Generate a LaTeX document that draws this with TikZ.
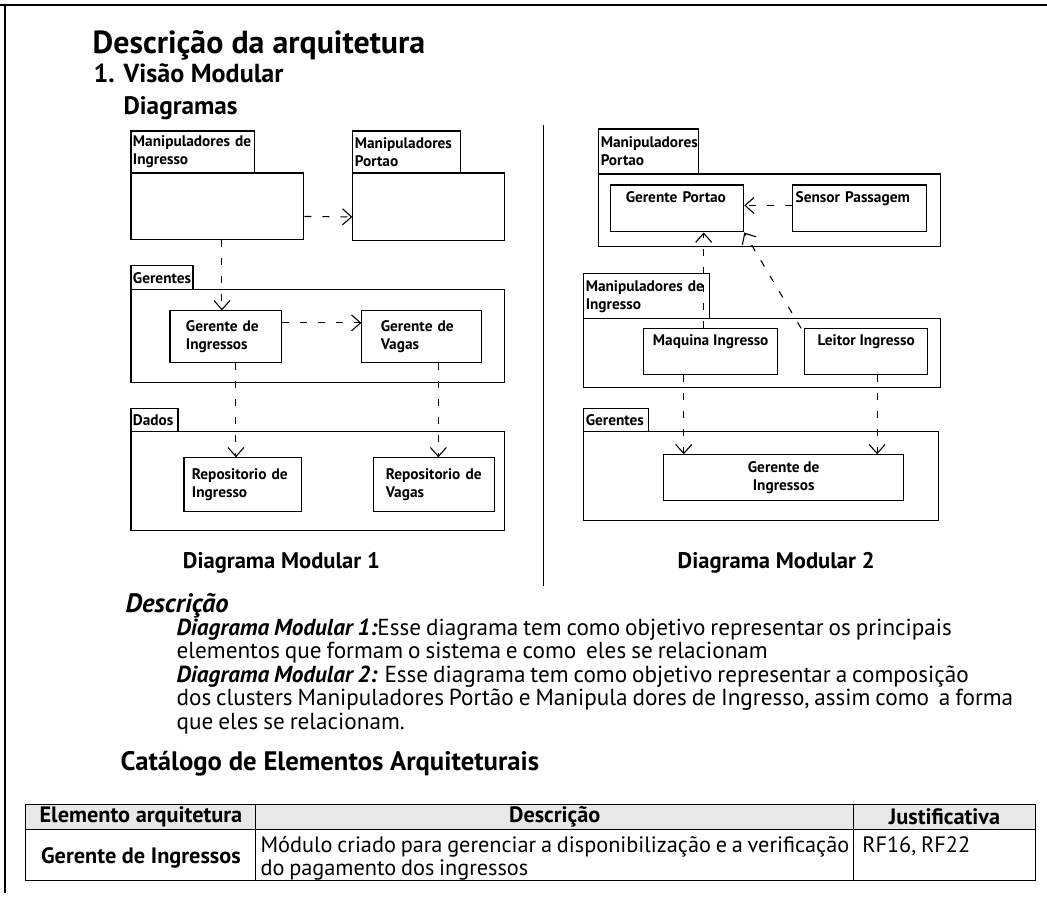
\documentclass[tikz,border=0pt]{standalone}
\usepackage{fontspec}
\setmainfont{PT Sans}
\newfontfamily\bodyfam{PT Sans}[WordSpace=0.8]
\usetikzlibrary{arrows.meta,calc}
\newlength\fitlen
\newcommand\calcsize[4]{%
  \setbox0\hbox{\fontsize{10}{12}\selectfont#3#4}%
  \fitlen=\wd0\relax
  \ifdim\fitlen<1pt \fitlen=100pt\fi
  \pgfmathsetmacro\tmpsz{10*#2/\fitlen}%
  \global\let#1\tmpsz}
\begin{document}
\begin{tikzpicture}[x=1pt,y=-1pt,
  box/.style={draw,line width=1.1pt,anchor=north west,inner sep=0pt,align=left,font=\fontsize{\boxsz}{18}\selectfont\bfseries},
  tab/.style={box,inner xsep=2pt,inner ysep=2pt},
  cbox/.style={box,align=center},
  dep/.style={draw,line width=1.1pt,dash pattern=on 7pt off 11pt,-{Straight Barb[length=9pt,width=16pt,line width=1.1pt]}},
  cell/.style={draw,line width=1pt,anchor=north west,inner sep=0pt},
  txt/.style={anchor=base west,inner sep=0pt,font=\fontsize{\bodysz}{24}\selectfont\bodyfam},
  ttxt/.style={inner sep=0pt,font=\fontsize{\tabsz}{23}\selectfont\bodyfam},
  tbold/.style={inner sep=0pt,font=\fontsize{\tabsz}{23}\selectfont\bfseries},
  capt/.style={font=\fontsize{\capsz}{24}\selectfont\bfseries}
]
\node[inner sep=0pt,outer sep=0pt] (sizes) at (0,0) {%
\calcsize\titlesz{172}{\bfseries}{Descrição da}%
\calcsize\hasz{190}{\bfseries}{1. Visão Modular}%
\calcsize\hbsz{114}{\bfseries}{Diagramas}%
\calcsize\capsz{197}{\bfseries}{Diagrama Modular 1}%
\calcsize\descsz{103}{\bfseries\itshape}{Descrição}%
\calcsize\bodysz{837}{\bodyfam}{dos clusters Manipuladores Portão e Manipula dores de Ingresso, assim como\ \ a forma}%
\calcsize\catsz{228}{\bfseries}{Catálogo de Elemen}%
\calcsize\tabsz{589}{\bodyfam}{Módulo criado para gerenciar a disponibilização e a verificação}%
\calcsize\boxsz{117}{\bfseries}{Manipuladores de}%
};
\useasboundingbox (0,0) rectangle (1047,899);
% page frame
\draw[line width=2pt] (0,5) -- (1047,5);
\draw[line width=2pt] (5,4) -- (5,893);

% headings
\node[anchor=base west,inner sep=0pt,font=\fontsize{\titlesz}{30}\selectfont\bfseries] (title) at (92,53) {Descrição da arquitetura};
\node[anchor=base west,inner sep=0pt,font=\fontsize{\hasz}{25}\selectfont\bfseries] (h1) at (93,82) {1. Visão Modular};
\node[anchor=base west,inner sep=0pt,font=\fontsize{\hbsz}{24}\selectfont\bfseries] (h2) at (123,114) {Diagramas};

% ---------- Diagram 1 ----------
\node[tab,minimum width=124pt,minimum height=42pt,text width=120pt] (mitab) at (130,130) {Manipuladores de\\Ingresso};
\node[box,minimum width=173pt,minimum height=67pt] (mibody) at (130,172) {};
\node[tab,minimum width=108pt,minimum height=42pt,text width=104pt] (mptab) at (352,130) {Manipuladores\\Portao};
\node[box,minimum width=152pt,minimum height=68pt] (mpbody) at (352,172) {};

\node[tab,minimum width=62pt,minimum height=24pt,text width=58pt] (gtab) at (130,265) {Gerentes};
\node[box,minimum width=374pt,minimum height=93pt] (gbody) at (130,289) {};
\node[box,minimum width=112pt,minimum height=52pt,text width=80pt] (gi) at (169,310) {Gerente de\\Ingressos};
\node[box,minimum width=120pt,minimum height=52pt,text width=82pt] (gv) at (361,310) {Gerente de\\Vagas};

\node[tab,minimum width=47pt,minimum height=23pt,text width=43pt] (dtab) at (130,408) {Dados};
\node[box,minimum width=374pt,minimum height=99pt] (dbody) at (130,431) {};
\node[box,minimum width=118pt,minimum height=54pt,text width=102pt] (ri) at (183,457) {Repositorio de\\Ingresso};
\node[box,minimum width=121pt,minimum height=54pt,text width=97pt] (rv) at (373,457) {Repositorio de\\Vagas};

\draw[dep] ([yshift=-10pt]mibody.east) -- ([yshift=-10pt]mpbody.west);
\draw[dep] ([xshift=-4pt]gi.north |- mibody.south) -- ([xshift=-4pt]gi.north);
\draw[dep] ([yshift=14pt]gi.east) -- ([yshift=14pt]gv.west);
\draw[dep] ([xshift=10pt]gi.south) -- ([xshift=10pt]gi.south |- ri.north);
\draw[dep] ([xshift=4pt]rv.north |- gv.south) -- ([xshift=4pt]rv.north);

\node[capt] (cap1) at (281,563) {Diagrama Modular 1};

% separator
\draw[line width=1pt] (543,125) -- (543,586);

% ---------- Diagram 2 ----------
\node[tab,minimum width=100pt,minimum height=45pt,text width=96pt] (mp2tab) at (598,128) {Manipuladores\\Portao};
\node[box,minimum width=342pt,minimum height=73pt] (mp2body) at (598,173) {};
\node[box,minimum width=133pt,minimum height=47pt,text width=103pt] (gp) at (610,184) {Gerente Portao\\\strut};
\node[box,minimum width=134pt,minimum height=47pt,text width=128pt] (sp) at (792,184) {Sensor Passagem\\\strut};

\node[tab,minimum width=126pt,minimum height=45pt,text width=122pt] (mi2tab) at (583,273) {Manipuladores de\\Ingresso};
\node[box,minimum width=357pt,minimum height=69pt] (mi2body) at (583,318) {};
\node[cbox,minimum width=134pt,minimum height=46pt] (mq) at (643,328) {Maquina Ingresso\\\strut};
\node[cbox,minimum width=123pt,minimum height=46pt] (li) at (804,328) {Leitor Ingresso\\\strut};

\node[tab,minimum width=65pt,minimum height=23pt,text width=61pt] (g2tab) at (583,408) {Gerentes};
\node[box,minimum width=355pt,minimum height=89pt] (g2body) at (583,431) {};
\node[cbox,minimum width=240pt,minimum height=46pt] (gi2) at (663,454) {Gerente de\\Ingressos};

\draw[dep] ([yshift=3pt]sp.west) -- ([yshift=3pt]gp.east);
\draw[dep] ([xshift=-7pt]mq.north) -- ([xshift=-7pt]mq.north |- gp.south);
\draw[dep] ([xshift=-3pt]li.north west) -- (gp.south east);
\draw[dep] ([xshift=-27pt]mq.south) -- ([xshift=-27pt]mq.south |- gi2.north);
\draw[dep] ([xshift=11pt]li.south) -- ([xshift=11pt]li.south |- gi2.north);

\node[capt] (cap2) at (776,563) {Diagrama Modular 2};

% ---------- Description ----------
\node[anchor=base west,inner sep=0pt,font=\fontsize{\descsz}{24}\selectfont\bfseries\itshape] (desc) at (125,612) {Descrição};
\node[txt] (l1) at (176,635) {{\bfseries\itshape Diagrama Modular 1:}Esse diagrama tem como objetivo representar os principais};
\node[txt] (l2) at (176,658) {elementos que formam o sistema e como\ \ eles se relacionam};
\node[txt] (l3) at (176,682) {{\bfseries\itshape Diagrama Modular 2:} Esse diagrama tem como objetivo representar a composição};
\node[txt] (l4) at (176,705) {dos clusters Manipuladores Portão e Manipula dores de Ingresso, assim como\ \ a forma};
\node[txt] (l5) at (176,729) {que eles se relacionam.};

\node[anchor=base west,inner sep=0pt,font=\fontsize{\catsz}{25}\selectfont\bfseries] (cat) at (120,770) {Catálogo de Elementos Arquiteturais};

% ---------- Table ----------
\node[cell,fill=gray!18,minimum width=230pt,minimum height=25pt] (c11) at (25,804) {};
\node[cell,fill=gray!18,minimum width=598pt,minimum height=25pt] (c12) at (255,804) {};
\node[cell,fill=gray!18,minimum width=182pt,minimum height=25pt] (c13) at (853,804) {};
\node[cell,minimum width=230pt,minimum height=51pt] (c21) at (25,829) {};
\node[cell,minimum width=598pt,minimum height=51pt] (c22) at (255,829) {};
\node[cell,minimum width=182pt,minimum height=51pt] (c23) at (853,829) {};

\node[tbold] (t11) at (c11.center) {Elemento arquitetura};
\node[tbold] (t12) at (c12.center) {Descrição};
\node[tbold] (t13) at (c13.center) {Justificativa};
\node[tbold] (t21) at ([yshift=-3pt]c21.center) {Gerente de Ingressos};
\node[ttxt,anchor=base west] (t22a) at (260,852) {Módulo criado para gerenciar a disponibilização e a verificação};
\node[ttxt,anchor=base west] (t22b) at (260,875) {do pagamento dos ingressos};
\node[ttxt,anchor=base west] (t23) at (862,852) {RF16, RF22};
\end{tikzpicture}
\end{document}
